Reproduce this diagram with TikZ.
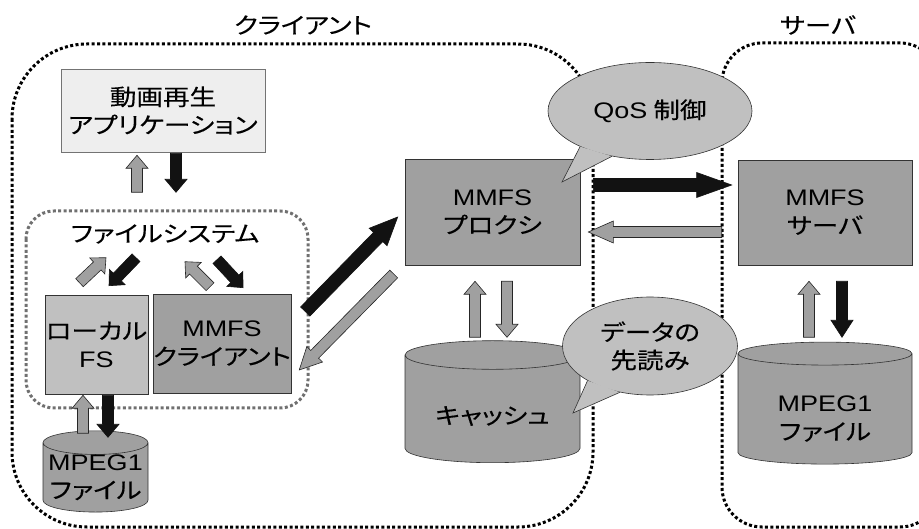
\documentclass[tikz,border=0pt]{standalone}
\usepackage{fontspec}
\setmainfont{Noto Sans CJK JP}[FakeStretch=1.18,RawFeature=+palt,FakeBold=0.25]
\newfontfamily\lat{Liberation Sans}[FakeStretch=1.2]
\usetikzlibrary{calc,shapes.geometric}

\definecolor{boxgray}{HTML}{A0A0A0}
\definecolor{fslight}{HTML}{C0C0C0}
\definecolor{appgray}{HTML}{EEEEEE}
\definecolor{dotgray}{HTML}{707070}

% block arrow: [head length]{style}{from}{to}
\newcommand\shaftw{5.5}
\newcommand\headw{11}
\newcommand\barrow[4][13]{%
  \path #3 coordinate (ta);
  \path #4 coordinate (tb);
  \path ($(tb)!#1pt!(ta)$) coordinate (hb);
  \draw[#2] ($(ta)!\shaftw pt!90:(tb)$) -- ($(hb)!\shaftw pt!-90:(ta)$)
    -- ($(hb)!\headw pt!-90:(ta)$) -- (tb) -- ($(hb)!\headw pt!90:(ta)$)
    -- ($(hb)!\shaftw pt!90:(ta)$) -- ($(ta)!\shaftw pt!-90:(tb)$) -- cycle;}

\begin{document}
\begin{tikzpicture}[x=1pt,y=-1pt,
  every node/.style={font=\fontsize{22.5}{28}\selectfont, align=center, inner sep=0pt},
  box/.style={draw=black!80, fill=boxgray, line width=0.6pt},
  drum/.style={cylinder, shape border rotate=90, aspect=0.25, draw=black!80,
    fill=boxgray, line width=0.6pt},
  region/.style={line width=3pt, dash pattern=on 3pt off 2.4pt},
  grayarr/.style={draw=black!85, fill=boxgray, line width=0.6pt},
  blackarr/.style={draw=black!93, fill=black!93, line width=0.6pt},
  bubble/.style={ellipse, draw=black!80, fill=fslight, line width=0.6pt}]
\useasboundingbox (0,0) rectangle (919,529);
\clip (0,0) rectangle (919,529);

% regions
\draw [region, rounded corners=75pt] (12,44) rectangle (593,527);
\draw [region, rounded corners=40pt] (722,43) rectangle (940,527);
\draw [region, dotgray, rounded corners=28pt] (26,211) rectangle (308,408);
\node (cltitle) at (303,25) {クライアント};
\node (svtitle) at (818,25) {サーバ};
\node (fstitle) at (165,234) {ファイルシステム};

% boxes
\node [box, fill=appgray, draw=black!55, minimum width=204pt, minimum height=83pt] (app) at (163,110.5) {動画再生\\アプリケーション};
\node [box, fill=fslight, minimum width=103pt, minimum height=99pt] (localfs) at (96.5,344.5) {ローカル\\{\lat FS}};
\node [box, minimum width=136pt, minimum height=99pt] (mmfscl) at (222,343.5) {{\lat MMFS}\\クライアント};
\node [box, minimum width=175pt, minimum height=106pt] (proxy) at (492.5,212) {{\lat MMFS}\\プロクシ};
\node [box, minimum width=174pt, minimum height=105pt] (server) at (825,212.5) {{\lat MMFS}\\サーバ};
\node [drum, minimum width=175pt, minimum height=122pt] (cache) at (492.5,409) {\phantom{キャッシュ}};
\node (cachetxt) at ($(cache.center)+(0,7)$) {キャッシュ};
\node [drum, minimum width=174pt, minimum height=122pt] (srvfile) at (825,409) {\phantom{ファイル}\\\phantom{ファイル}};
\node (srvfiletxt) at ($(srvfile.center)+(0,10)$) {{\lat MPEG1}\\ファイル};
\node [drum, minimum width=105pt, minimum height=75pt] (locfile) at (95.5,477.5) {{\lat MPEG1}\\ファイル};

% arrows
\barrow{grayarr}{($(app.south)+(-26,40)$)}{($(app.south)+(-26,3)$)}
\barrow{blackarr}{($(app.south)+(13,1)$)}{($(app.south)+(13,40)$)}
\barrow[12]{grayarr}{($(localfs.north)+(-17,-12)$)}{($(localfs.north)+(9.5,-37)$)}
\barrow[12]{blackarr}{($(localfs.north)+(39.5,-37)$)}{($(localfs.north)+(12.5,-9)$)}
\barrow[12]{grayarr}{($(mmfscl.north)+(-12,-7)$)}{($(mmfscl.north)+(-37,-32)$)}
\barrow[12]{blackarr}{($(mmfscl.north)+(-5,-34)$)}{($(mmfscl.north)+(21,-6)$)}
\barrow{grayarr}{($(localfs.south)+(-13.5,39)$)}{($(localfs.south)+(-13.5,1)$)}
\barrow{blackarr}{($(localfs.south)+(11.5,1)$)}{($(localfs.south)+(11.5,43)$)}
{\renewcommand\shaftw{6.5}\renewcommand\headw{12.5}
\barrow[28]{blackarr}{($(mmfscl.east)+(14,-32)$)}{($(proxy.west)+(-7,5)$)}
\barrow[35]{blackarr}{($(proxy.east)+(13,-27)$)}{($(server.west)+(-6,-27.5)$)}}
\barrow[22]{grayarr}{($(proxy.west)+(-11,62)$)}{($(mmfscl.east)+(8,26.5)$)}
\barrow[25]{grayarr}{($(server.west)+(-16,19.5)$)}{($(proxy.east)+(8,20)$)}
\barrow{grayarr}{($(proxy.south)+(-17.5,72)$)}{($(proxy.south)+(-17.5,16)$)}
\barrow{grayarr}{($(proxy.south)+(14.5,16)$)}{($(proxy.south)+(14.5,72)$)}
\barrow{grayarr}{($(server.south)+(-16,72)$)}{($(server.south)+(-16,16)$)}
\barrow[17]{blackarr}{($(server.south)+(17,16)$)}{($(server.south)+(17,72)$)}

% bubbles
\node [bubble, minimum width=204pt, minimum height=97pt] (qos) at (650,111) {{\lat QoS} 制御};
\coordinate (qostip) at (562,182);
\fill [fslight] (qos.207) -- (qostip) -- (qos.230) -- cycle;
\draw [black!80, line width=0.6pt] (qos.207) -- (qostip) -- (qos.230);
\node [bubble, minimum width=175pt, minimum height=98pt] (prefetch) at (650,346) {データの\\先読み};
\coordinate (pftip) at (573,413);
\fill [fslight] (prefetch.209) -- (pftip) -- (prefetch.237) -- cycle;
\draw [black!80, line width=0.6pt] (prefetch.209) -- (pftip) -- (prefetch.237);
\end{tikzpicture}
\end{document}
